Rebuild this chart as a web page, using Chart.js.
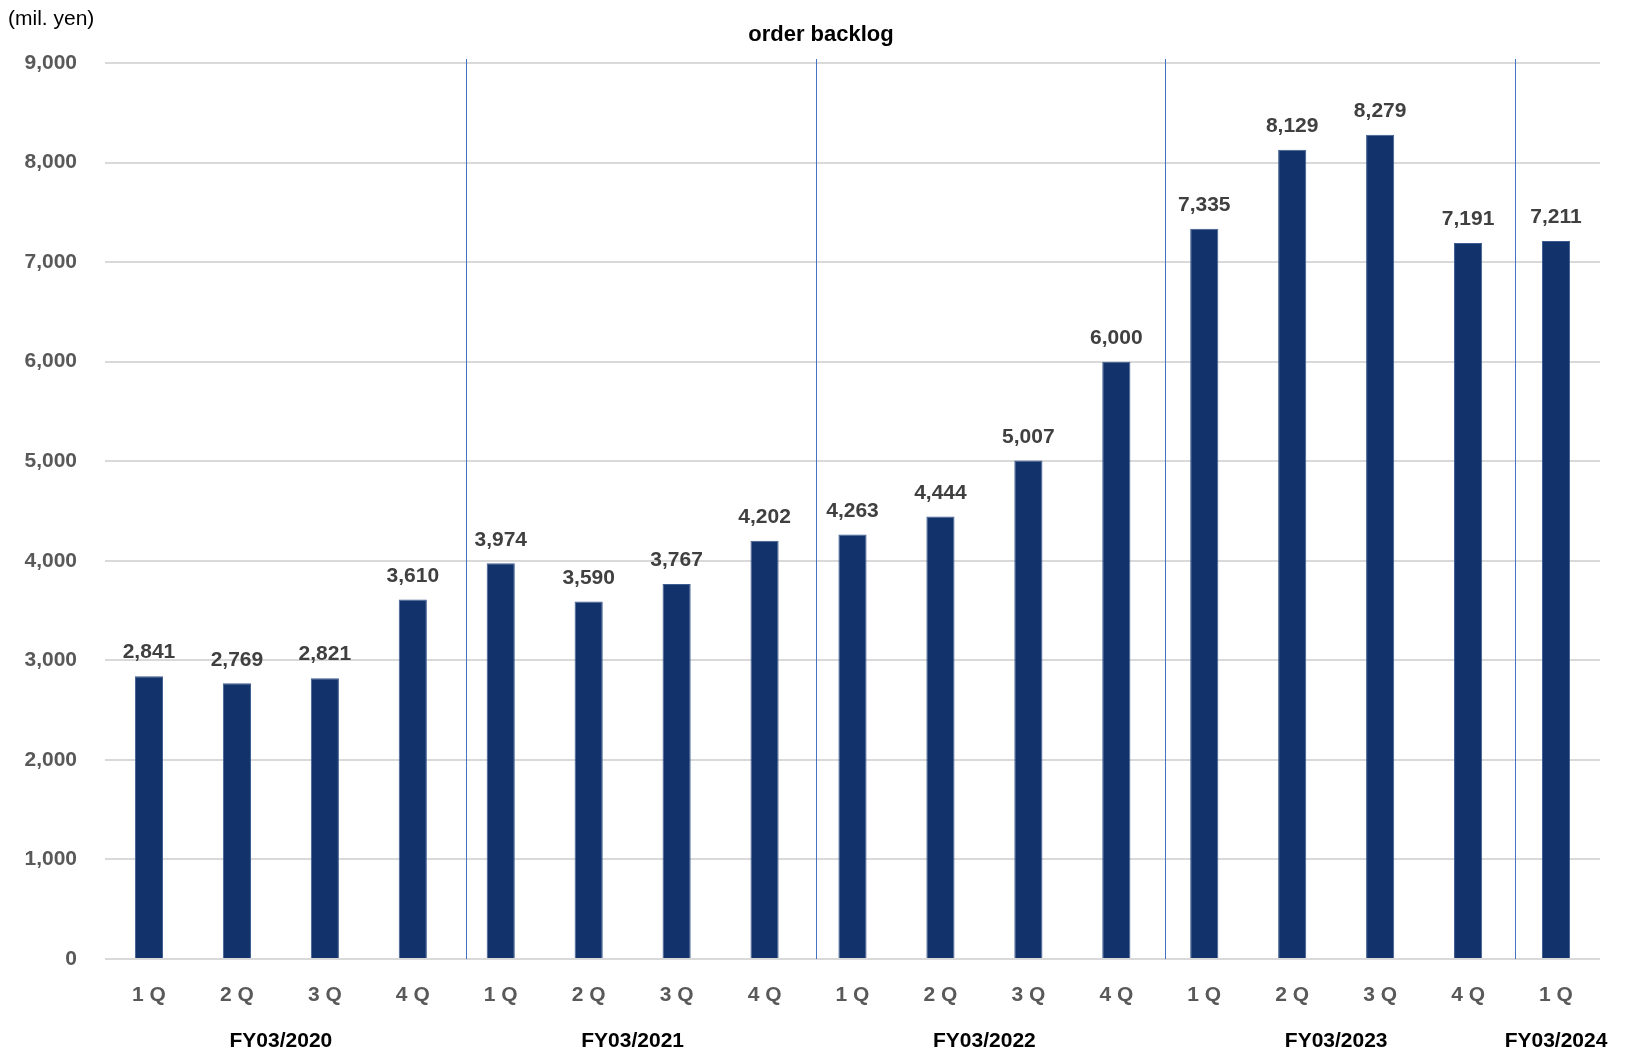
<!DOCTYPE html>
<html>
<head>
<meta charset="utf-8">
<script src="https://cdn.jsdelivr.net/npm/chart.js@4.4.0/dist/chart.umd.min.js"></script>
<style>
  html, body { margin: 0; padding: 0; background: #fff; }
  #wrap { width: 1642px; height: 1051px; position: relative; }
</style>
</head>
<body>
<div id="wrap"><canvas id="myChart" width="1642" height="1051"></canvas></div>
<script>
const quarters = ["1 Q", "2 Q", "3 Q", "4 Q", "1 Q", "2 Q", "3 Q", "4 Q", "1 Q", "2 Q", "3 Q", "4 Q", "1 Q", "2 Q", "3 Q", "4 Q", "1 Q"];
const backlog = [2841, 2769, 2821, 3610, 3974, 3590, 3767, 4202, 4263, 4444, 5007, 6000, 7335, 8129, 8279, 7191, 7211];
const fiscalYears = ["FY03/2020", "FY03/2021", "FY03/2022", "FY03/2023", "FY03/2024"];
const yearStart = [0, 4, 8, 12, 16];
const yearEnd = [3, 7, 11, 15, 16];
const yTicks = [0, 1000, 2000, 3000, 4000, 5000, 6000, 7000, 8000, 9000];

const FONT = "'Liberation Sans', Arial, sans-serif";

// title, unit, value labels, FY labels and the blue year dividers
const extras = {
    id: "extras",
    afterDatasetsDraw(chart) {
        const ctx = chart.ctx;
        const x = chart.scales.x;
        const y = chart.scales.y;
        const area = chart.chartArea;
        ctx.save();

        // dividers between fiscal years (sit a bit right of the gap, like the original)
        ctx.strokeStyle = "#4472C4";
        ctx.lineWidth = 1;
        for (let i = 0; i < yearEnd.length - 1; i++) {
            const px = Math.round((x.getPixelForValue(yearEnd[i]) + x.getPixelForValue(yearEnd[i] + 1)) / 2 + 9 - i * 2) + 0.5;
            ctx.beginPath();
            ctx.moveTo(px, area.top - 4);
            ctx.lineTo(px, y.getPixelForValue(0));
            ctx.stroke();
        }

        // value labels
        ctx.fillStyle = "#404040";
        ctx.font = "bold 21px " + FONT;
        ctx.textAlign = "center";
        ctx.textBaseline = "bottom";
        const meta = chart.getDatasetMeta(0);
        meta.data.forEach((bar, i) => {
            ctx.fillText(backlog[i].toLocaleString("en-US"), bar.x, bar.y - 13);
        });

        // fiscal year labels
        ctx.fillStyle = "#000";
        ctx.font = "bold 21px " + FONT;
        ctx.textBaseline = "middle";
        fiscalYears.forEach((fy, i) => {
            let cx = (x.getPixelForValue(yearStart[i]) + x.getPixelForValue(yearEnd[i])) / 2;
            const w = ctx.measureText(fy).width;
            cx = Math.min(cx, chart.width - 28 - w / 2);
            ctx.fillText(fy, cx, 1041);
        });

        // title and unit
        ctx.font = "bold 22px " + FONT;
        ctx.fillText("order backlog", chart.width / 2, 35);
        ctx.font = "21px " + FONT;
        ctx.textAlign = "left";
        ctx.fillText("(mil. yen)", 8, 19);
        ctx.restore();
    }
};

new Chart("myChart", {
    type: "bar",
    data: {
        labels: quarters,
        datasets: [{
            data: backlog,
            backgroundColor: "#11326B",
            borderColor: "#3D5C8F",
            borderWidth: 1,
            barPercentage: 0.32,
            categoryPercentage: 1.0
        }]
    },
    options: {
        responsive: false,
        animation: false,
        devicePixelRatio: 1,
        layout: { padding: { top: 63, right: 42, left: 0, bottom: 0 } },
        plugins: {
            legend: { display: false },
            tooltip: { enabled: false },
            title: { display: false }
        },
        scales: {
            x: {
                grid: { display: false, drawTicks: false },
                border: { display: false },
                ticks: {
                    color: "#595959",
                    font: { family: FONT, size: 21, weight: "bold" },
                    padding: 24,
                    maxRotation: 0,
                    autoSkip: false
                },
                afterFit(scale) { scale.height = 92; }
            },
            y: {
                min: 0,
                max: 9000,
                afterBuildTicks(scale) { scale.ticks = yTicks.map(v => ({ value: v })); },
                grid: { color: "#D9D9D9", lineWidth: 2, drawTicks: false },
                border: { display: false },
                ticks: {
                    color: "#595959",
                    font: { family: FONT, size: 21, weight: "bold" },
                    padding: 28,
                    callback: v => v.toLocaleString("en-US")
                },
                afterFit(scale) { scale.width = 105; }
            }
        }
    },
    plugins: [extras]
});
</script>
</body>
</html>
